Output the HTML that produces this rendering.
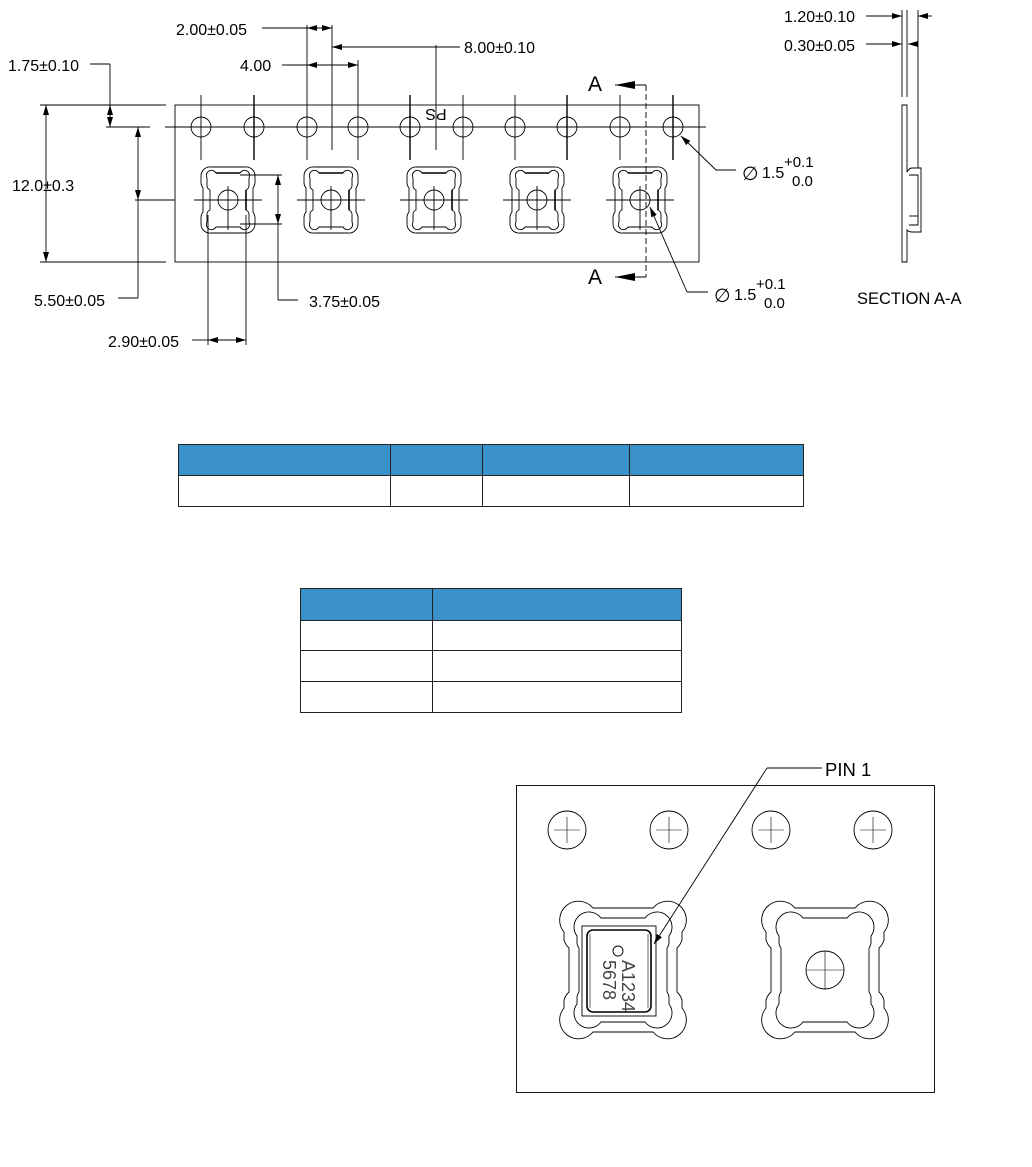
<!DOCTYPE html>
<html><head><meta charset="utf-8"><style>
body{margin:0;background:#fff;}
svg{display:block;font-family:"Liberation Sans","DejaVu Sans",sans-serif;}
</style></head><body>
<svg width="1032" height="1167" viewBox="0 0 1032 1167" xmlns="http://www.w3.org/2000/svg">
<defs>
<marker id="ar" viewBox="0 0 10 6" refX="10" refY="3" markerWidth="10" markerHeight="6" orient="auto-start-reverse" markerUnits="userSpaceOnUse"><path d="M0,0L10,3L0,6z" fill="#000"/></marker>
<marker id="aA" viewBox="0 0 20 8" refX="0" refY="4" markerWidth="20" markerHeight="8" orient="auto" markerUnits="userSpaceOnUse"><path d="M0,4L20,0L20,8z" fill="#000"/></marker>
<g id="pk" fill="none" stroke="#000" stroke-width="0.9">
  <path d="M-17,-33 H17 A9,9 0 0 1 27,-24 V-17 A9,9 0 0 1 25,-12 V12 A9,9 0 0 1 27,17 V24 A9,9 0 0 1 17,33 H-17 A9,9 0 0 1 -27,24 V17 A9,9 0 0 1 -25,12 V-12 A9,9 0 0 1 -27,-17 V-24 A9,9 0 0 1 -17,-33 Z"/>
  <path d="M-12,-27 H12 A5,5 0 0 1 21,-22 V-14 A5,5 0 0 1 18,-10 V10 A5,5 0 0 1 21,14 V22 A5,5 0 0 1 12,27 H-12 A5,5 0 0 1 -21,22 V14 A5,5 0 0 1 -18,10 V-10 A5,5 0 0 1 -21,-14 V-22 A5,5 0 0 1 -12,-27 Z"/>
  <line x1="-12" y1="-27" x2="12" y2="-27" stroke-width="1.6"/>
  <line x1="18" y1="-10" x2="18" y2="10" stroke-width="1.6"/>
  <circle cx="0" cy="0" r="10"/>
  <line x1="-34" y1="0" x2="34" y2="0"/>
  <line x1="0" y1="-14" x2="0" y2="30"/>
</g>
<g id="bp" fill="none" stroke="#000" stroke-width="0.9">
  <path d="M-30,-62 H30 A18,18 0 0 1 59,-38 V-30 A18,18 0 0 1 54,-22 V22 A18,18 0 0 1 59,30 V38 A18,18 0 0 1 30,62 H-30 A18,18 0 0 1 -59,38 V30 A18,18 0 0 1 -54,22 V-22 A18,18 0 0 1 -59,-30 V-38 A18,18 0 0 1 -30,-62 Z"/>
  <path d="M-22,-52 H22 A10,10 0 0 1 46,-34 V-28 A10,10 0 0 1 44,-22 V22 A10,10 0 0 1 46,28 V34 A10,10 0 0 1 22,52 H-22 A10,10 0 0 1 -46,34 V28 A10,10 0 0 1 -44,22 V-22 A10,10 0 0 1 -46,-28 V-34 A10,10 0 0 1 -22,-52 Z"/>
</g>
</defs>

<g fill="none" stroke="#000" stroke-width="0.9">
<rect x="175" y="105" width="524" height="157"/>
<line x1="165" y1="127" x2="706" y2="127"/>
<circle cx="201" cy="127" r="10"/><circle cx="254" cy="127" r="10"/><circle cx="307" cy="127" r="10"/><circle cx="358" cy="127" r="10"/><circle cx="410" cy="127" r="10"/><circle cx="463" cy="127" r="10"/><circle cx="515" cy="127" r="10"/><circle cx="567" cy="127" r="10"/><circle cx="620" cy="127" r="10"/><circle cx="673" cy="127" r="10"/>
<line x1="201" y1="95" x2="201" y2="160"/><line x1="254" y1="95" x2="254" y2="160" stroke-width="1.4"/><line x1="307" y1="25" x2="307" y2="160"/><line x1="358" y1="95" x2="358" y2="160"/><line x1="410" y1="95" x2="410" y2="160" stroke-width="1.4"/><line x1="463" y1="95" x2="463" y2="160"/><line x1="515" y1="95" x2="515" y2="160"/><line x1="567" y1="95" x2="567" y2="160" stroke-width="1.4"/><line x1="620" y1="95" x2="620" y2="160"/><line x1="673" y1="95" x2="673" y2="160" stroke-width="1.4"/>
<line x1="332" y1="25" x2="332" y2="150"/>
<line x1="358" y1="60" x2="358" y2="95"/>
<line x1="436" y1="45" x2="436" y2="150"/>
</g>
<use href="#pk" x="228" y="200"/><use href="#pk" x="331" y="200"/><use href="#pk" x="434" y="200"/><use href="#pk" x="537" y="200"/><use href="#pk" x="640" y="200"/>
<text x="436" y="121" font-size="16" text-anchor="middle" transform="rotate(180 436 115)">PS</text>

<g fill="none" stroke="#000" stroke-width="0.9">
<line x1="262" y1="28" x2="307" y2="28"/>
<line x1="307" y1="28" x2="332" y2="28" marker-start="url(#ar)" marker-end="url(#ar)"/>
<line x1="332" y1="47" x2="460" y2="47" marker-start="url(#ar)"/>
<line x1="282" y1="65" x2="307" y2="65"/>
<line x1="307" y1="65" x2="358" y2="65" marker-start="url(#ar)" marker-end="url(#ar)"/>
<line x1="90" y1="64" x2="110" y2="64"/><line x1="110" y1="64" x2="110" y2="127"/>
<line x1="40" y1="105" x2="166" y2="105"/>
<line x1="110" y1="105" x2="110" y2="127" marker-start="url(#ar)" marker-end="url(#ar)"/>
<line x1="106" y1="127" x2="150" y2="127"/>
<line x1="46" y1="105" x2="46" y2="262" marker-start="url(#ar)" marker-end="url(#ar)"/>
<line x1="40" y1="262" x2="166" y2="262"/>
<line x1="138" y1="127" x2="138" y2="200" marker-start="url(#ar)" marker-end="url(#ar)"/>
<line x1="135" y1="200" x2="175" y2="200"/>
<line x1="138" y1="200" x2="138" y2="298"/><line x1="118" y1="298" x2="138" y2="298"/>
<line x1="240" y1="175" x2="282" y2="175"/><line x1="240" y1="224" x2="282" y2="224"/>
<line x1="278" y1="175" x2="278" y2="224" marker-start="url(#ar)" marker-end="url(#ar)"/>
<line x1="278" y1="224" x2="278" y2="300"/><line x1="278" y1="300" x2="298" y2="300"/>
<line x1="208" y1="215" x2="208" y2="345"/><line x1="246" y1="215" x2="246" y2="345"/>
<line x1="192" y1="340" x2="208" y2="340"/>
<line x1="208" y1="340" x2="246" y2="340" marker-start="url(#ar)" marker-end="url(#ar)"/>
<line x1="646" y1="85" x2="646" y2="277" stroke-dasharray="6,3"/>
<line x1="615" y1="85" x2="646" y2="85" marker-start="url(#aA)"/>
<line x1="615" y1="277" x2="646" y2="277" marker-start="url(#aA)"/>
<line x1="716" y1="170" x2="736" y2="170"/><line x1="716" y1="170" x2="681" y2="136" marker-end="url(#ar)"/>
<line x1="687" y1="292" x2="708" y2="292"/><line x1="687" y1="292" x2="650" y2="207" marker-end="url(#ar)"/>
</g>
<g font-size="16" fill="#000">
<text x="176" y="35">2.00±0.05</text>
<text x="464" y="53">8.00±0.10</text>
<text x="240" y="71">4.00</text>
<text x="8" y="71">1.75±0.10</text>
<text x="12" y="191">12.0±0.3</text>
<text x="34" y="306">5.50±0.05</text>
<text x="309" y="307">3.75±0.05</text>
<text x="108" y="347">2.90±0.05</text>
<text x="588" y="91" font-size="21">A</text>
<text x="588" y="284" font-size="21">A</text>
<text x="742" y="180" font-size="19">∅</text><text x="762" y="178" font-size="16">1.5</text><text x="784" y="167" font-size="15">+0.1</text><text x="792" y="186" font-size="15">0.0</text>
<text x="714" y="302" font-size="19">∅</text><text x="734" y="300" font-size="16">1.5</text><text x="756" y="289" font-size="15">+0.1</text><text x="764" y="308" font-size="15">0.0</text>
<text x="784" y="22">1.20±0.10</text>
<text x="784" y="51">0.30±0.05</text>
<text x="857" y="304" font-size="16.5">SECTION A-A</text>
</g>
<g fill="none" stroke="#000" stroke-width="0.9">
<line x1="866" y1="16" x2="901" y2="16"/>
<line x1="888" y1="16" x2="902" y2="16" marker-end="url(#ar)"/>
<line x1="932" y1="16" x2="918" y2="16" marker-end="url(#ar)"/>
<line x1="866" y1="44" x2="902" y2="44" marker-end="url(#ar)"/>
<line x1="918" y1="44" x2="908" y2="44" marker-end="url(#ar)"/>
<line x1="902" y1="10" x2="902" y2="97"/><line x1="907" y1="10" x2="907" y2="97"/><line x1="918" y1="10" x2="918" y2="168"/>
<path d="M902,105 H907 V172 Q909,168 912,168 H921 V232 H912 Q909,232 907,230 V262 H902 Z"/>
<path d="M909,175 H918 V225 H909"/><line x1="909" y1="216" x2="918" y2="216"/>
</g>

<rect x="178.5" y="444.5" width="625" height="31" fill="#3a91c9" stroke="#222"/>
<rect x="178.5" y="444.5" width="625" height="62" fill="none" stroke="#222"/>
<g stroke="#222"><line x1="390.5" y1="444" x2="390.5" y2="507"/><line x1="482.5" y1="444" x2="482.5" y2="507"/><line x1="629.5" y1="444" x2="629.5" y2="507"/></g>
<rect x="300.5" y="588.5" width="381" height="32" fill="#3a91c9" stroke="#222"/>
<rect x="300.5" y="588.5" width="381" height="124" fill="none" stroke="#222"/>
<g stroke="#222"><line x1="432.5" y1="588" x2="432.5" y2="713"/><line x1="300" y1="650.5" x2="682" y2="650.5"/><line x1="300" y1="681.5" x2="682" y2="681.5"/></g>

<g fill="none" stroke="#000" stroke-width="0.9">
<rect x="516.5" y="785.5" width="418" height="307"/>
<circle cx="567" cy="830" r="19"/><circle cx="669" cy="830" r="19"/><circle cx="771" cy="830" r="19"/><circle cx="873" cy="830" r="19"/>
<path d="M554,830H580M567,817V843M656,830H682M669,817V843M758,830H784M771,817V843M860,830H886M873,817V843" stroke-width="0.6"/>
<circle cx="825" cy="970" r="19"/><path d="M806,970H844M825,951V989" stroke-width="0.6"/>
<rect x="582" y="926" width="74" height="90"/>
<rect x="587" y="930" width="64" height="82" rx="6" stroke-width="1.6"/>
<path d="M590,934V1008M648,934V1008" stroke-width="0.6"/>
<circle cx="618" cy="951" r="5"/>
<line x1="767" y1="768" x2="822" y2="768"/><line x1="767" y1="768" x2="654" y2="944" marker-end="url(#ar)"/>
</g>
<use href="#bp" x="623" y="970"/><use href="#bp" x="825" y="970"/>
<text x="825" y="776" font-size="18.5">PIN 1</text>
<g transform="translate(622 960) rotate(90)" font-size="18" fill="#444"><text x="0" y="0">A1234</text><text x="0" y="19">5678</text></g>
</svg>
</body></html>
